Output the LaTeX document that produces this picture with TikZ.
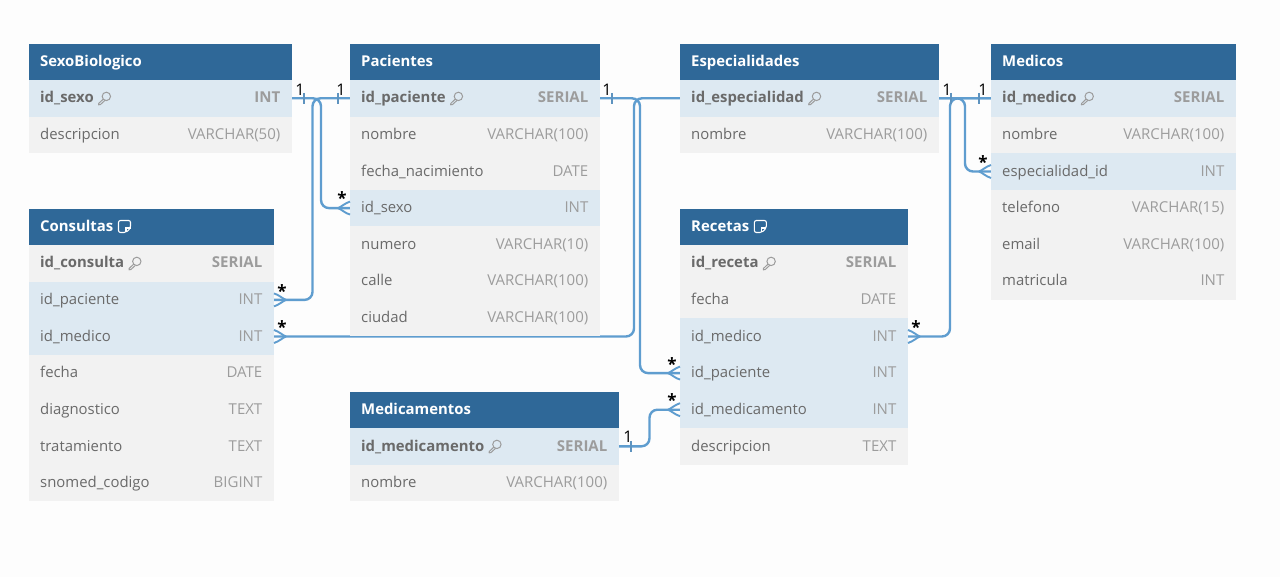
\documentclass[tikz,border=0pt]{standalone}
\usepackage{fontspec}
\setmainfont{Open Sans}
\usetikzlibrary{backgrounds}
\definecolor{bgc}{HTML}{FDFDFD}
\definecolor{headc}{HTML}{2F6898}
\definecolor{greyrow}{HTML}{F2F2F2}
\definecolor{bluerow}{HTML}{DDE9F2}
\definecolor{fieldc}{HTML}{6A6A6A}
\definecolor{typec}{HTML}{9C9C9C}
\definecolor{relc}{HTML}{5F9DCF}
\definecolor{tickc}{HTML}{5E93BF}
\tikzset{
  x=1pt,y=-1pt,
  rowbox/.style={anchor=north west,inner sep=0pt,outer sep=0pt,draw=none,minimum height=36.6pt},
  headbox/.style={anchor=north west,inner sep=0pt,outer sep=0pt,draw=none,minimum height=36pt,fill=headc},
  headtxt/.style={anchor=base west,inner sep=0pt,text=white,font=\fontsize{14.9}{18}\selectfont\bfseries},
  lbl/.style={anchor=base west,inner sep=0pt,text=fieldc,font=\fontsize{14.9}{18}\selectfont},
  pklbl/.style={lbl,font=\fontsize{14.9}{18}\selectfont\bfseries},
  typ/.style={anchor=base east,inner sep=0pt,text=typec,font=\fontsize{15}{18}\selectfont},
  pktyp/.style={typ,font=\fontsize{15}{18}\selectfont\bfseries},
  rel/.style={draw=relc,line width=2.4pt,rounded corners=8pt},
  crowline/.style={draw=relc,line width=1.9pt},
  tickm/.style={draw=tickc,line width=1.4pt},
  card/.style={inner sep=0pt,text=black,font=\fontsize{16}{18}\selectfont},
  stard/.style={inner sep=0pt,text=black,font=\fontsize{17}{18}\selectfont\bfseries},
  iconl/.style={draw=typec,line width=1pt},
}
% \ehead{name}{x1}{x2}{top}{title}
\newcommand{\ehead}[5]{%
  \pgfmathsetmacro{\ew}{#3-#2}%
  \node[headbox,minimum width=\ew pt] (#1) at (#2,#4) {};
  \node[headtxt] (#1-t) at ([xshift=11pt,yshift=-4.5pt]#1.west) {#5};
}
% \erow{name}{x1}{x2}{top}{idx}{fill}{label}{type}
\newcommand{\erow}[8]{%
  \pgfmathsetmacro{\ew}{#3-#2}%
  \pgfmathsetmacro{\ey}{#4+36+#5*36.6}%
  \node[rowbox,fill=#6,minimum width=\ew pt] (#1) at (#2,\ey) {};
  \node[lbl] (#1-l) at ([xshift=11pt,yshift=-4.7pt]#1.west) {#7};
  \node[typ] (#1-y) at ([xshift=-11.5pt,yshift=-4.7pt]#1.east) {#8};
}
% primary key row, with key icon
\newcommand{\epk}[8]{%
  \pgfmathsetmacro{\ew}{#3-#2}%
  \pgfmathsetmacro{\ey}{#4+36+#5*36.6}%
  \node[rowbox,fill=#6,minimum width=\ew pt] (#1) at (#2,\ey) {};
  \node[pklbl] (#1-l) at ([xshift=11pt,yshift=-4.7pt]#1.west) {#7};
  \node[pktyp] (#1-y) at ([xshift=-11.5pt,yshift=-4.7pt]#1.east) {#8};
  \begin{scope}[shift={(#1-l.base east)},shift={(4,-5)}]
    \draw[iconl] (8.4,-1.6) circle[radius=4.2];
    \draw[iconl,line join=round] (5.2,1.2) -- (0.8,5.4) -- (0.6,6.8) -- (2.4,6.6) -- (7,2.4);
  \end{scope}
}
% note icon after a table title
\newcommand{\enote}[1]{%
  \begin{scope}[shift={(#1-t.base east)},shift={(5,-11)}]
    \draw[draw=white,line width=1.1pt,rounded corners=2pt]
      (0,0) -- (12,0) -- (12,7.5) -- (7.5,12) -- (0,12) -- cycle;
    \draw[draw=white,line width=1.1pt] (12,7.5) -- (7.5,7.5) -- (7.5,12);
  \end{scope}
}
% \ecrowl{row}: crow's foot on the west side; \ecrowr: on the east side
\newcommand{\ecrowl}[1]{%
  \draw[crowline] ([yshift=6.5pt]#1.west) .. controls ([xshift=-5pt,yshift=5pt]#1.west) and ([xshift=-9pt,yshift=1pt]#1.west) .. ([xshift=-12pt]#1.west);
  \draw[crowline] ([yshift=-6.5pt]#1.west) .. controls ([xshift=-5pt,yshift=-5pt]#1.west) and ([xshift=-9pt,yshift=-1pt]#1.west) .. ([xshift=-12pt]#1.west);
}
\newcommand{\ecrowr}[1]{%
  \draw[crowline] ([yshift=6.5pt]#1.east) .. controls ([xshift=5pt,yshift=5pt]#1.east) and ([xshift=9pt,yshift=1pt]#1.east) .. ([xshift=12pt]#1.east);
  \draw[crowline] ([yshift=-6.5pt]#1.east) .. controls ([xshift=5pt,yshift=-5pt]#1.east) and ([xshift=9pt,yshift=-1pt]#1.east) .. ([xshift=12pt]#1.east);
}
\newcommand{\etickl}[1]{\draw[tickm] ([xshift=-12pt,yshift=5.5pt]#1.west) -- ([xshift=-12pt,yshift=-5.5pt]#1.west);}
\newcommand{\etickr}[1]{\draw[tickm] ([xshift=12pt,yshift=5.5pt]#1.east) -- ([xshift=12pt,yshift=-5.5pt]#1.east);}
\begin{document}
\begin{tikzpicture}
\useasboundingbox (0,0) rectangle (1280,577);
\begin{pgfonlayer}{background}
  \fill[bgc] (0,0) rectangle (1280,577);
\end{pgfonlayer}

% SexoBiologico
\ehead{sexo}{29}{292}{44}{SexoBiologico}
\epk{sexoid}{29}{292}{44}{0}{bluerow}{id\_sexo}{INT}
\erow{sexodes}{29}{292}{44}{1}{greyrow}{descripcion}{VARCHAR(50)}

% Pacientes
\ehead{pac}{350}{600}{44}{Pacientes}
\epk{pacid}{350}{600}{44}{0}{bluerow}{id\_paciente}{SERIAL}
\erow{pacnom}{350}{600}{44}{1}{greyrow}{nombre}{VARCHAR(100)}
\erow{pacfec}{350}{600}{44}{2}{greyrow}{fecha\_nacimiento}{DATE}
\erow{pacsex}{350}{600}{44}{3}{bluerow}{id\_sexo}{INT}
\erow{pacnum}{350}{600}{44}{4}{greyrow}{numero}{VARCHAR(10)}
\erow{paccal}{350}{600}{44}{5}{greyrow}{calle}{VARCHAR(100)}
\erow{paccdd}{350}{600}{44}{6}{greyrow}{ciudad}{VARCHAR(100)}

% Especialidades
\ehead{esp}{680}{939}{44}{Especialidades}
\epk{espid}{680}{939}{44}{0}{bluerow}{id\_especialidad}{SERIAL}
\erow{espnom}{680}{939}{44}{1}{greyrow}{nombre}{VARCHAR(100)}

% Medicos
\ehead{med}{991}{1236}{44}{Medicos}
\epk{medid}{991}{1236}{44}{0}{bluerow}{id\_medico}{SERIAL}
\erow{mednom}{991}{1236}{44}{1}{greyrow}{nombre}{VARCHAR(100)}
\erow{medesp}{991}{1236}{44}{2}{bluerow}{especialidad\_id}{INT}
\erow{medtel}{991}{1236}{44}{3}{greyrow}{telefono}{VARCHAR(15)}
\erow{medema}{991}{1236}{44}{4}{greyrow}{email}{VARCHAR(100)}
\erow{medmat}{991}{1236}{44}{5}{greyrow}{matricula}{INT}

% Consultas
\ehead{con}{29}{274}{209}{Consultas}
\enote{con}
\epk{conid}{29}{274}{209}{0}{greyrow}{id\_consulta}{SERIAL}
\erow{conpac}{29}{274}{209}{1}{bluerow}{id\_paciente}{INT}
\erow{conmed}{29}{274}{209}{2}{bluerow}{id\_medico}{INT}
\erow{confec}{29}{274}{209}{3}{greyrow}{fecha}{DATE}
\erow{condia}{29}{274}{209}{4}{greyrow}{diagnostico}{TEXT}
\erow{contra}{29}{274}{209}{5}{greyrow}{tratamiento}{TEXT}
\erow{consno}{29}{274}{209}{6}{greyrow}{snomed\_codigo}{BIGINT}

% Recetas
\ehead{rec}{680}{908}{209}{Recetas}
\enote{rec}
\epk{recid}{680}{908}{209}{0}{greyrow}{id\_receta}{SERIAL}
\erow{recfec}{680}{908}{209}{1}{greyrow}{fecha}{DATE}
\erow{recmed}{680}{908}{209}{2}{bluerow}{id\_medico}{INT}
\erow{recpac}{680}{908}{209}{3}{bluerow}{id\_paciente}{INT}
\erow{recmm}{680}{908}{209}{4}{bluerow}{id\_medicamento}{INT}
\erow{recdes}{680}{908}{209}{5}{greyrow}{descripcion}{TEXT}

% Medicamentos
\ehead{mm}{350}{619}{392}{Medicamentos}
\epk{mmid}{350}{619}{392}{0}{bluerow}{id\_medicamento}{SERIAL}
\erow{mmnom}{350}{619}{392}{1}{greyrow}{nombre}{VARCHAR(100)}

% vertical runs of the connectors
\coordinate (va) at (321,0);
\coordinate (vb) at (312.5,0);
\coordinate (vc) at (640,0);
\coordinate (vd) at (634,0);
\coordinate (ve) at (965,0);
\coordinate (vf) at (950,0);
\coordinate (vg) at (649.5,0);

\begin{pgfonlayer}{background}
  \draw[rel] (sexoid.east) -- (sexoid.east -| va) -- (va |- pacsex.west) -- (pacsex.west);
  \draw[rel] (pacid.west) -- (pacid.west -| vb) -- (vb |- conpac.east) -- (conpac.east);
  \draw[rel] (pacid.east) -- (pacid.east -| vc) -- (vc |- recpac.west) -- (recpac.west);
  \draw[rel] (medid.west) -- (medid.west -| vd) -- (vd |- conmed.east) -- (conmed.east);
  \draw[rel] (espid.east) -- (espid.east -| ve) -- (ve |- medesp.west) -- (medesp.west);
  \draw[rel] (medid.west) -- (medid.west -| vf) -- (vf |- recmed.east) -- (recmed.east);
  \draw[rel] (mmid.east) -- (mmid.east -| vg) -- (vg |- recmm.west) -- (recmm.west);
\end{pgfonlayer}

% crow's feet (many side)
\ecrowl{pacsex}
\ecrowr{conpac}
\ecrowr{conmed}
\ecrowl{recpac}
\ecrowl{recmm}
\ecrowl{medesp}
\ecrowr{recmed}
% ticks (one side)
\etickr{sexoid}
\etickl{pacid}
\etickr{pacid}
\etickr{espid}
\etickl{medid}
\etickr{mmid}

% cardinalities
\node[card] (c1) at (300,90) {1};
\node[card] (c2) at (341,90) {1};
\node[card] (c3) at (607,90) {1};
\node[card] (c4) at (947,90) {1};
\node[card] (c5) at (983,90) {1};
\node[card] (c6) at (628,437) {1};
\node[stard] (s1) at (342,198) {*};
\node[stard] (s2) at (282,291) {*};
\node[stard] (s3) at (282,327) {*};
\node[stard] (s4) at (672,364) {*};
\node[stard] (s5) at (672,400) {*};
\node[stard] (s6) at (916,327) {*};
\node[stard] (s7) at (983,162) {*};
\end{tikzpicture}
\end{document}
